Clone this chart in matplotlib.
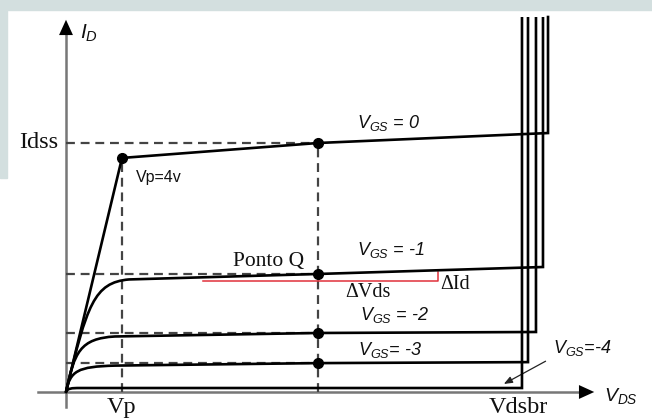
import matplotlib as mpl
mpl.use('agg')

import matplotlib.pyplot as plt
from matplotlib.path import Path
from matplotlib.patches import PathPatch, Rectangle

plt.rcParams['mathtext.fontset'] = 'custom'
plt.rcParams['mathtext.it'] = 'Liberation Sans:italic'
plt.rcParams['mathtext.rm'] = 'Liberation Sans:italic'

# JFET output characteristics (arbitrary units: VDS in V, ID in mA)
vgs_labels = ['0', '-1', '-2', '-3', '-4']
vp = 4.0
v_q = 18.0
i_dss = 10.0
i_knee0 = 9.4

# knee of each curve: cubic bezier control points (origin -> plateau)
knee_ctrl = [
    None,
    [(0.0, 0.0), (1.5, 3.5), (2.0, 4.4), (4.5, 4.52)],
    [(0.0, 0.0), (0.6, 1.6), (1.0, 2.15), (3.5, 2.23)],
    [(0.0, 0.0), (0.3, 0.85), (0.8, 1.02), (3.5, 1.06)],
    [(0.0, 0.0), (0.1, 0.15), (0.4, 0.16), (1.0, 0.16)],
]
i_q = [10.0, 4.74, 2.37, 1.16, 0.16]
i_end = [10.4, 5.02, 2.41, 1.20, 0.16]
v_break = [34.43, 34.07, 33.57, 33.0, 32.57]
i_top = 15.06

# operating point deltas
dvds_span = (9.8, 26.6)
did_span = (4.46, 4.82)

fig = plt.figure(figsize=(6.52, 4.19), dpi=100)
fig.patch.set_facecolor('white')
fig.patches.append(Rectangle((0, 1 - 10 / 419), 1, 10 / 419, transform=fig.transFigure,
                             color='#d3dfdf', zorder=0))
fig.patches.append(Rectangle((0, 1 - 178 / 419), 7 / 652, 168 / 419, transform=fig.transFigure,
                             color='#d3dfdf', zorder=0))

ax = fig.add_axes([0, 0, 1, 1])
ax.set_facecolor('none')
ax.axis('off')
ax.set_xlim(-66 / 14, (652 - 66) / 14)
ax.set_ylim((392 - 419) / 24.9, 392 / 24.9)

curve_kw = dict(color='black', lw=1.9, solid_joinstyle='miter', zorder=4)
dash_kw = dict(color='#444444', lw=1.6, ls=(0, (4, 2.6)), zorder=2)

# axes with arrows
ax.plot([0, 0], [-0.6, 14.4], color='#777777', lw=1.8, zorder=1)
ax.plot([-2.0, 36.6], [0, 0], color='#777777', lw=1.8, zorder=1)
ax.annotate('', xy=(0, 15.06), xytext=(0, 14.3),
            arrowprops=dict(arrowstyle='-|>,head_length=1.1,head_width=0.5', color='black', lw=0))
ax.annotate('', xy=(37.93, 0), xytext=(36.6, 0),
            arrowprops=dict(arrowstyle='-|>,head_length=1.1,head_width=0.5', color='black', lw=0))

# guide lines
ax.plot([0, v_q], [i_dss, i_dss], **dash_kw)
for iq in i_q[1:4]:
    ax.plot([0, v_q], [iq, iq], **dash_kw)
ax.plot([vp, vp], [0, i_knee0], **dash_kw)
ax.plot([v_q, v_q], [0, i_q[0]], **dash_kw)

# VGS = 0 curve
ax.plot([0, vp, v_q, v_break[0], v_break[0]],
        [0, i_knee0, i_q[0], i_end[0], i_top], **curve_kw)

# remaining curves: bezier knee + linear saturation + breakdown
for k in range(1, 5):
    pts = knee_ctrl[k]
    verts = pts + [(v_q, i_q[k]), (v_break[k], i_end[k]), (v_break[k], i_top)]
    codes = [Path.MOVETO, Path.CURVE4, Path.CURVE4, Path.CURVE4,
             Path.LINETO, Path.LINETO, Path.LINETO]
    ax.add_patch(PathPatch(Path(verts, codes), fill=False, edgecolor='black',
                           lw=1.9, joinstyle='miter', zorder=4))

# points
ax.plot([vp], [i_knee0], 'o', color='black', ms=7, zorder=5)
ax.plot([v_q] * 4, i_q[:4], 'o', color='black', ms=7, zorder=5)

# delta lines
ax.plot([dvds_span[0], dvds_span[1], dvds_span[1]],
        [did_span[0], did_span[0], did_span[1]], color='#e0303a', lw=1.1, zorder=3)

serif = dict(family='Liberation Serif', color='#111111')
ax.text(-0.55, i_dss, 'Idss', ha='right', va='center', fontsize=17.5, **serif)
ax.text(vp, -0.62, 'Vp', ha='center', va='center', fontsize=17.5, **serif)
ax.text(32.3, -0.62, 'Vdsbr', ha='center', va='center', fontsize=17.5, **serif)
ax.text(14.5, 5.26, 'Ponto Q', ha='center', va='center', fontsize=15.5, **serif)
ax.text(21.6, 4.0, '\u0394Vds', ha='center', va='center', fontsize=14.5, **serif)
ax.text(26.7, 4.32, '\u0394Id', ha='left', va='center', fontsize=14.5, **serif)

sans_it = dict(family='Liberation Sans', style='italic', fontsize=13, color='#111111')
ax.text(1.0, 14.4, r'$I_D$', ha='left', va='center',
        **{**sans_it, 'fontsize': 15})
ax.text(38.4, -0.15, r'$V_{DS}$', ha='left', va='center',
        **{**sans_it, 'fontsize': 14})
ax.text(5.0, 8.6, 'Vp=4v', ha='left', va='center', family='Liberation Sans',
        fontsize=11.5, color='#111111')

label_pos = [(20.8, 10.6), (20.8, 5.5), (21.0, 2.89), (20.86, 1.49), (34.8, 1.57)]
label_txt = [r'$V_{GS}$ = 0', r'$V_{GS}$ = -1', r'$V_{GS}$ = -2', r'$V_{GS}$= -3', r'$V_{GS}$=-4']
for (x, y), t in zip(label_pos, label_txt):
    ax.text(x, y, t, ha='left', va='baseline', **sans_it)

ax.annotate('', xy=(31.1, 0.27), xytext=(34.43, 1.29),
            arrowprops=dict(arrowstyle='-|>,head_length=0.5,head_width=0.2',
                            color='#222222', lw=0.9))

fig.savefig('out.png', dpi=100)
